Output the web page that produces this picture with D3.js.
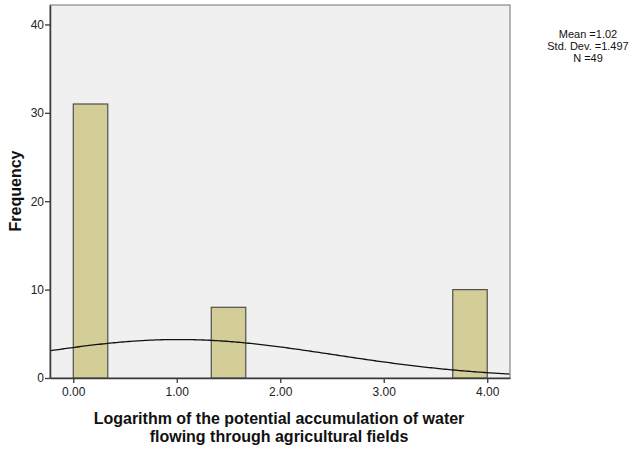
<!DOCTYPE html>
<html>
<head>
<meta charset="utf-8">
<script src="https://cdn.jsdelivr.net/npm/d3@7"></script>
<style>
  body { margin: 0; background: #fff; }
  svg { display: block; }
  text { font-family: "Liberation Sans", Arial, sans-serif; }
</style>
</head>
<body>
<div id="chart"></div>
<script>
// histogram data
var binStarts = [0, 1.3333, 3.6667];
var binWidth = 0.3333;
var counts = [31, 8, 10];
var xTicks = [0, 1, 2, 3, 4];
var yTicks = [0, 10, 20, 30, 40];
var mean = 1.02;
var stdDev = 1.497;
var n = 49;
var statLines = ["Mean =1.02", "Std. Dev. =1.497", "N =49"];

var width = 639, height = 453;
var frame = { left: 50, top: 5, right: 510, bottom: 378 };

var x = d3.scaleLinear().domain([-0.225, 4.22]).range([frame.left, frame.right]);
var y = d3.scaleLinear().domain([0, 42.2]).range([frame.bottom, frame.top]);

var svg = d3.select("#chart")
  .append("svg")
  .attr("width", width)
  .attr("height", height);

// plot background
svg.append("rect")
  .attr("x", frame.left)
  .attr("y", frame.top)
  .attr("width", frame.right - frame.left)
  .attr("height", frame.bottom - frame.top)
  .attr("fill", "#f0f0f0")
  .attr("stroke", "#6e6e6e")
  .attr("stroke-width", 1);

// bars
svg.selectAll("rect.bar")
  .data(counts)
  .enter()
  .append("rect")
  .attr("class", "bar")
  .attr("x", function(d, i) { return x(binStarts[i]); })
  .attr("y", function(d) { return y(d); })
  .attr("width", function(d, i) { return x(binStarts[i] + binWidth) - x(binStarts[i]); })
  .attr("height", function(d) { return y(0) - y(d); })
  .attr("fill", "#d3ce97")
  .attr("stroke", "#505050")
  .attr("stroke-width", 1.2);

// normal curve
var curvePts = d3.range(-0.225, 4.2201, 0.02).map(function(v) {
  var z = (v - mean) / stdDev;
  var f = n * binWidth / (stdDev * Math.sqrt(2 * Math.PI)) * Math.exp(-0.5 * z * z);
  return [v, f];
});
svg.append("path")
  .datum(curvePts)
  .attr("d", d3.line().x(function(d) { return x(d[0]); }).y(function(d) { return y(d[1]); }))
  .attr("fill", "none")
  .attr("stroke", "#111")
  .attr("stroke-width", 1.3);

// axes
var xAxis = svg.append("g")
  .attr("transform", "translate(0," + frame.bottom + ")")
  .call(d3.axisBottom(x).tickValues(xTicks).tickFormat(d3.format(".2f")).tickSize(5).tickSizeOuter(0));
var yAxis = svg.append("g")
  .attr("transform", "translate(" + frame.left + ",0)")
  .call(d3.axisLeft(y).tickValues(yTicks).tickSize(5).tickSizeOuter(0));

[xAxis, yAxis].forEach(function(g) {
  g.select(".domain").attr("stroke", "#3a3a3a").attr("stroke-width", 1.5);
  g.selectAll(".tick line").attr("stroke", "#3a3a3a").attr("stroke-width", 1.3);
  g.selectAll(".tick text").attr("fill", "#222").style("font-size", "12px")
    .style("font-family", "'Liberation Sans', Arial, sans-serif");
});
xAxis.selectAll(".tick text").attr("dy", "0.85em");
yAxis.selectAll(".tick text").attr("x", -6);

// axis titles
svg.append("text")
  .attr("transform", "translate(21,191) rotate(-90)")
  .attr("text-anchor", "middle")
  .style("font-size", "16px")
  .style("font-weight", "bold")
  .attr("fill", "#111")
  .text("Frequency");

svg.append("text")
  .attr("x", 279)
  .attr("y", 424)
  .attr("text-anchor", "middle")
  .style("font-size", "16px")
  .style("font-weight", "bold")
  .attr("fill", "#111")
  .text("Logarithm of the potential accumulation of water");
svg.append("text")
  .attr("x", 279)
  .attr("y", 442)
  .attr("text-anchor", "middle")
  .style("font-size", "16px")
  .style("font-weight", "bold")
  .attr("fill", "#111")
  .text("flowing through agricultural fields");

// stats box
svg.selectAll("text.stat")
  .data(statLines)
  .enter()
  .append("text")
  .attr("class", "stat")
  .attr("x", 588)
  .attr("y", function(d, i) { return 38 + i * 12; })
  .attr("text-anchor", "middle")
  .style("font-size", "11px")
  .attr("fill", "#111")
  .text(function(d) { return d; });
</script>
</body>
</html>
